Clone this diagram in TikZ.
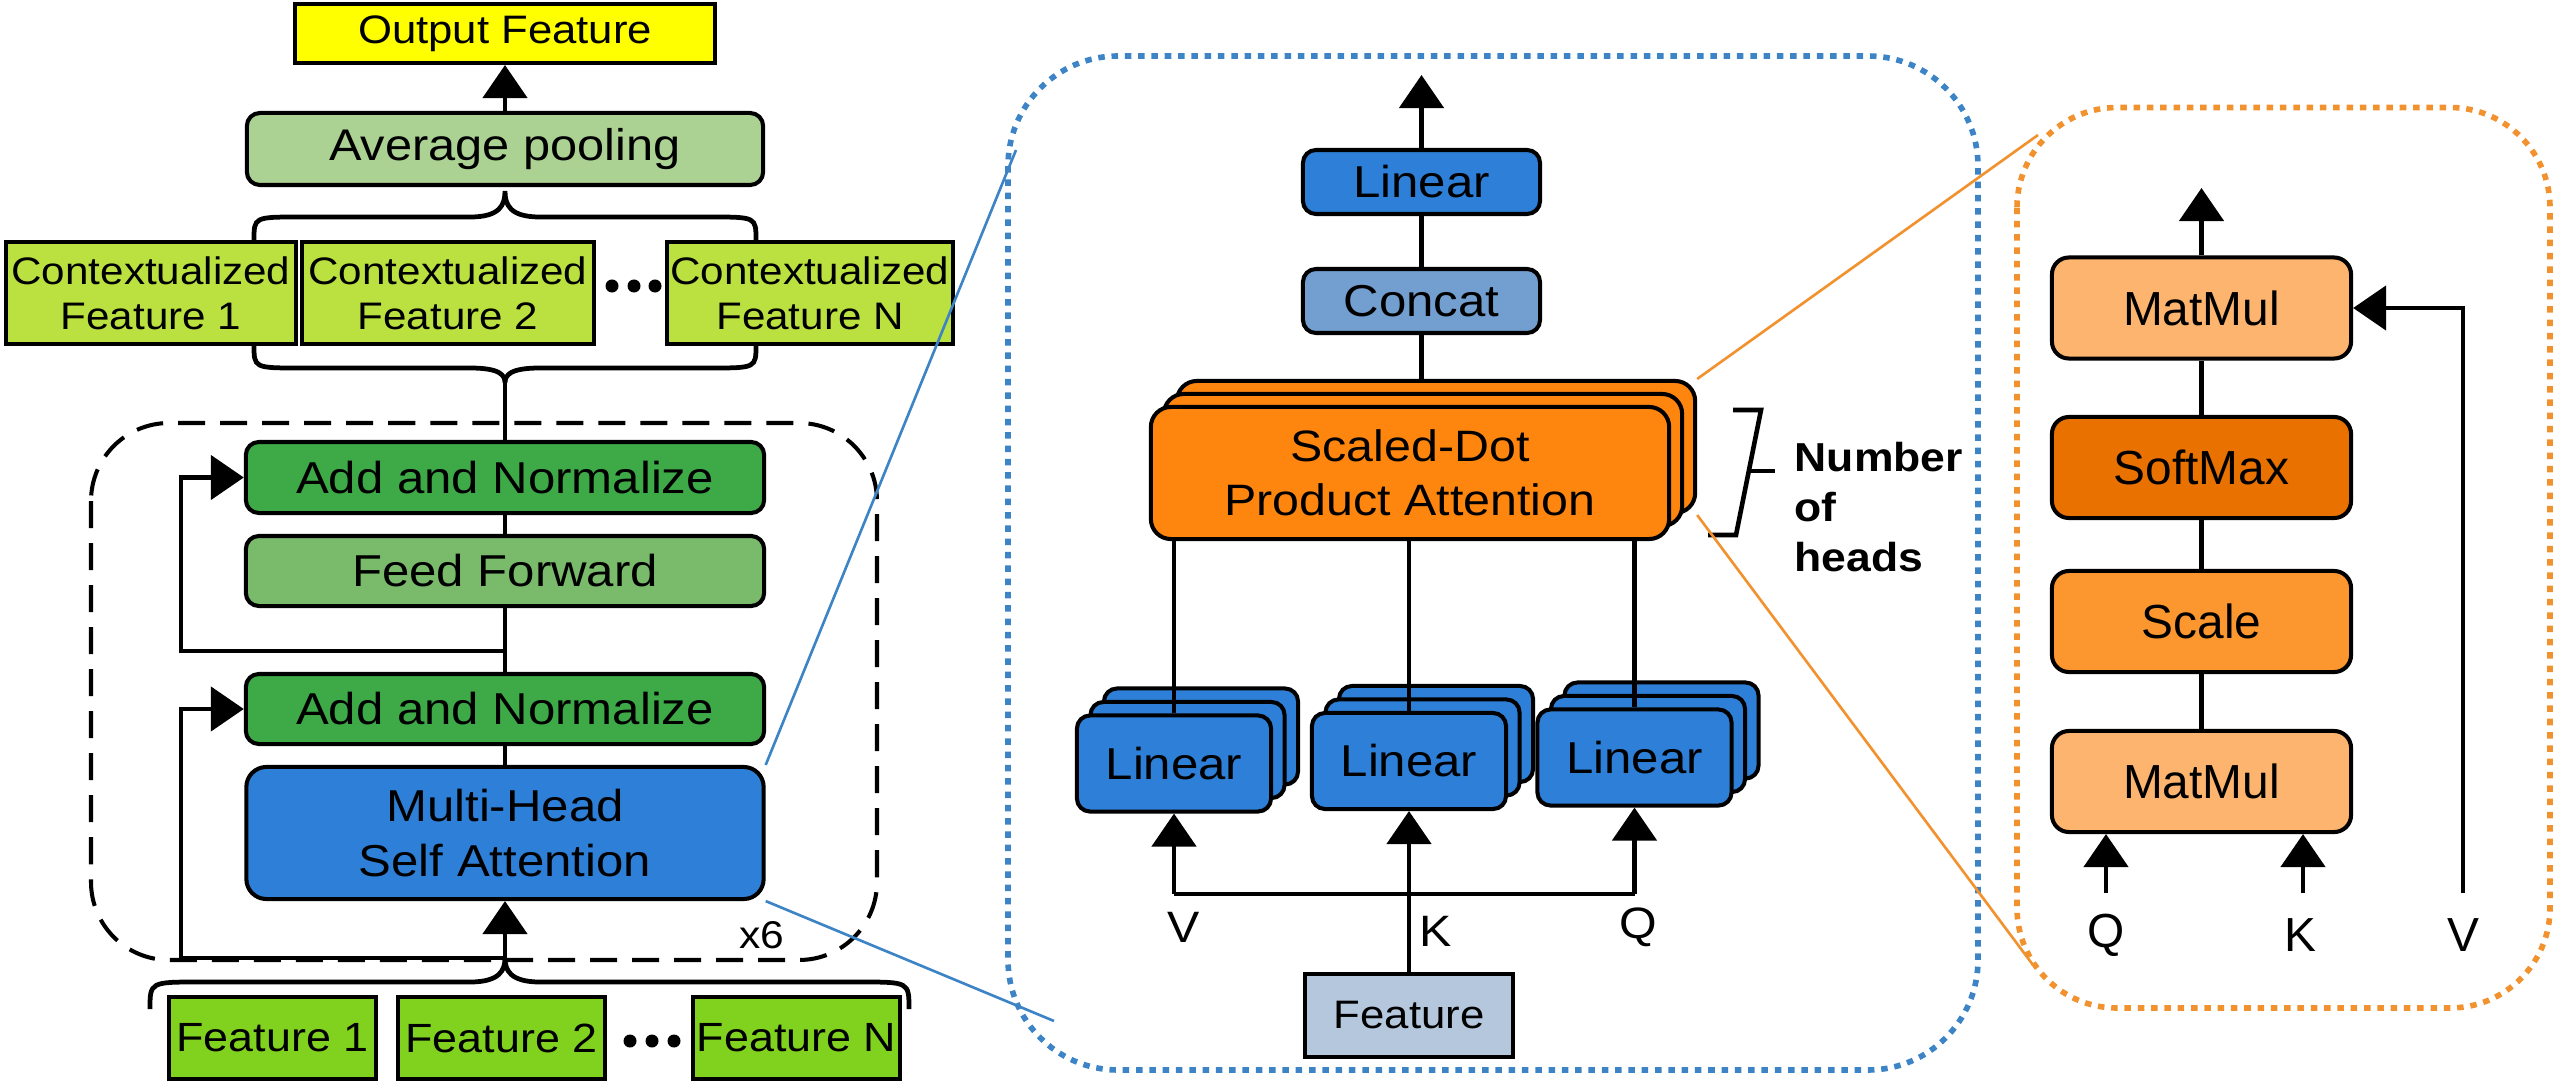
\documentclass[tikz,border=0pt]{standalone}
\usepackage{fontspec}
\setmainfont{Liberation Sans}[FakeStretch=1.1]
\newfontfamily\widesans{Liberation Sans}
\usetikzlibrary{arrows.meta}

\definecolor{outyellow}{HTML}{FFFF00}
\definecolor{poolgreen}{HTML}{ABD193}
\definecolor{ctxgreen}{HTML}{BAE13F}
\definecolor{featgreen}{HTML}{80D21E}
\definecolor{addgreen}{HTML}{3DAA47}
\definecolor{ffgreen}{HTML}{79BA6B}
\definecolor{mhblue}{HTML}{2E7FD7}
\definecolor{concatblue}{HTML}{729FCF}
\definecolor{sdorange}{HTML}{FF860E}
\definecolor{featgray}{HTML}{B4C7DC}
\definecolor{dotblue}{HTML}{3C84C6}
\definecolor{dotorange}{HTML}{F2922F}
\definecolor{mmorange}{HTML}{FDB46E}
\definecolor{smorange}{HTML}{E87100}
\definecolor{scorange}{HTML}{FC962E}

\begin{document}
\begin{tikzpicture}[x=0.01cm, y=-0.01cm,
    blk/.style={draw, line width=1.15pt, inner sep=0pt, align=center},
    rblk/.style={blk, rounded corners=0.13cm},
    arr/.style={line width=1.35pt, -{Triangle[length=3.3mm,width=4.4mm]}},
    wire/.style={line width=1.35pt},
    linblk/.style={rblk, fill=mhblue, minimum width=1.94cm, minimum height=0.96cm, font=\fontsize{12.7}{15}\selectfont},
    sdblk/.style={blk, rounded corners=0.2cm, fill=sdorange, minimum width=5.18cm, minimum height=1.32cm, font=\fontsize{12.5}{15.2}\selectfont},
    opblk/.style={blk, rounded corners=0.17cm, minimum width=2.99cm, minimum height=1.01cm, font=\widesans\fontsize{13.6}{16}\selectfont},
    zoomlink/.style={line width=0.75pt}]
    \useasboundingbox (0,0) rectangle (2560,1085);

    \draw[line width=1.15pt, dash pattern=on 0.27cm off 0.15cm, rounded corners=0.78cm] (91,423) rectangle (877,960);
    \draw[dotblue, line width=1.6pt, dash pattern=on 0.065cm off 0.068cm, rounded corners=1.1cm] (1008,56) rectangle (1978,1070);
    \draw[dotorange, line width=1.6pt, dash pattern=on 0.065cm off 0.068cm, rounded corners=1cm] (2017,107.5) rectangle (2550,1008);

    \node[blk, fill=outyellow, minimum width=4.2cm, minimum height=0.59cm, font=\fontsize{11.3}{13}\selectfont] (out) at (505,33.5) {Output Feature};
    \node[rblk, fill=poolgreen, minimum width=5.16cm, minimum height=0.72cm, font=\fontsize{12.6}{14}\selectfont] (pool) at (505,149) {Average pooling};

    \foreach \n/\x/\w in {1/151/2.9,2/448/2.92,N/810/2.86} {
        \node[blk, fill=ctxgreen, minimum width=\w cm, minimum height=1.01cm, font=\fontsize{10.9}{12.8}\selectfont] (ctx\n) at (\x,293) {Contextualized\\Feature \n};
      }
    \foreach \x in {612,634,655} {
        \fill (\x,286) circle (0.065cm);
      }

    \node[rblk, fill=addgreen, minimum width=5.18cm, minimum height=0.71cm, font=\fontsize{12.7}{15}\selectfont] (an1) at (505,477.5) {Add and Normalize};
    \node[rblk, fill=ffgreen, minimum width=5.18cm, minimum height=0.70cm, font=\fontsize{12.7}{15}\selectfont] (ff) at (505,571) {Feed Forward};
    \node[rblk, fill=addgreen, minimum width=5.18cm, minimum height=0.70cm, font=\fontsize{12.7}{15}\selectfont] (an2) at (505,709) {Add and Normalize};
    \node[blk, rounded corners=0.2cm, fill=mhblue, minimum width=5.17cm, minimum height=1.32cm, font=\fontsize{12.7}{15.4}\selectfont] (mhsa) at (505,833) {Multi-Head\\Self Attention};
    \node[font=\fontsize{11}{13}\selectfont] (rep) at (762,935) {x6};

    \foreach \n/\x in {1/272.5,2/501.5,N/796.5} {
        \node[blk, fill=featgreen, minimum width=2.06cm, minimum height=0.82cm, font=\fontsize{11.6}{14}\selectfont] (feat\n) at (\x,1038) {Feature \n};
      }
    \foreach \x in {630,652,674} {
        \fill (\x,1041) circle (0.065cm);
      }

    \coordinate (ctxtip) at (505,383);
    \coordinate (res1) at (505,651);
    \coordinate (split) at (505,958);

    \draw[wire] (254,240) .. controls (254,217) and (254,217) .. (300,217) -- (470,217)
      .. controls (500,217) and (505,205) .. (505,191)
      .. controls (505,205) and (510,217) .. (540,217) -- (710,217)
      .. controls (756,217) and (756,217) .. (756,240);
    \draw[wire] (254,345) .. controls (254,368) and (254,368) .. (300,368) -- (470,368)
      .. controls (500,368) and (505,375) .. (ctxtip)
      .. controls (505,375) and (510,368) .. (540,368) -- (710,368)
      .. controls (756,368) and (756,368) .. (756,345);
    \draw[wire] (150,1009) .. controls (150,982) and (150,982) .. (200,982) -- (470,982)
      .. controls (500,982) and (505,970) .. (split)
      .. controls (505,970) and (510,982) .. (540,982) -- (860,982)
      .. controls (909,982) and (909,982) .. (909,1009);

    \draw[arr] (pool) -- (out);
    \draw[wire] (ctxtip) -- (an1);
    \draw[wire] (an1) -- (ff);
    \draw[wire] (ff) -- (an2);
    \draw[wire] (an2) -- (mhsa);
    \draw[arr] (res1) -- (181,651) |- (an1);
    \draw[arr] (split) -- (181,958) |- (an2);
    \draw[arr] (split) -- (mhsa);

    \node[rblk, fill=mhblue, minimum width=2.37cm, minimum height=0.64cm, font=\fontsize{12.7}{15}\selectfont] (lin) at (1421.5,182) {Linear};
    \node[rblk, fill=concatblue, minimum width=2.37cm, minimum height=0.64cm, font=\fontsize{12.7}{15}\selectfont] (concat) at (1421.5,301) {Concat};
    \coordinate (mhout) at (1421.5,75);
    \draw[arr] (lin) -- (mhout);
    \draw[wire] (concat) -- (lin);

    \foreach \s/\d in {3/26,2/13} {
        \node[sdblk] (sdpa\s) at (1410+\d,473-\d) {};
      }
    \node[sdblk] (sdpa) at (1410,473) {Scaled-Dot\\Product Attention};
    \draw[wire] (concat) -- (concat |- sdpa3.north);

    \foreach \n/\x/\y in {v/1174/763.5,k/1409/761,q/1634.5/757.5} {
        \node[linblk] (lin\n3) at (\x+27,\y-27) {};
        \node[linblk] (lin\n2) at (\x+13.5,\y-13.5) {};
        \node[linblk] (lin\n) at (\x,\y) {Linear};
        \draw[wire] (lin\n.north |- sdpa.south) -- (lin\n.north);
      }

    \node[blk, fill=featgray, minimum width=2.07cm, minimum height=0.83cm, font=\fontsize{11.3}{13}\selectfont] (feat) at (1409,1015.5) {Feature};
    \coordinate (vin) at (1174,894);
    \coordinate (qin) at (1634.5,894);
    \draw[wire] (vin) -- (qin);
    \draw[arr] (vin) -- (linv);
    \draw[arr] (qin) -- (linq);
    \draw[arr] (feat) -- (link);
    \node[font=\fontsize{12.5}{14}\selectfont] (lv) at (1184,927) {V};
    \node[font=\fontsize{12.5}{14}\selectfont] (lk) at (1436,931) {K};
    \node[font=\fontsize{12.5}{14}\selectfont] (lq) at (1638,927) {Q};

    \draw[line width=1.3pt] (1733,410) -- (1761,410) -- (1736,535) -- (1708,535);
    \draw[line width=1.3pt] (1748,471) -- (1775,471);
    \node[font=\bfseries\fontsize{11.5}{14.2}\selectfont, align=left, anchor=west, inner sep=0pt] (heads) at (1794,507) {Number\\of\\heads};

    \node[opblk, fill=mmorange] (mm2) at (2201.5,308) {MatMul};
    \node[opblk, fill=smorange] (smax) at (2201.5,467.5) {SoftMax};
    \node[opblk, fill=scorange] (scl) at (2201.5,621.5) {Scale};
    \node[opblk, fill=mmorange] (mm1) at (2201.5,781.5) {MatMul};
    \coordinate (sdout) at (2201.5,188);
    \draw[arr] (mm2) -- (sdout);
    \draw[wire] (mm1) -- (scl);
    \draw[wire] (scl) -- (smax);
    \draw[wire] (smax) -- (mm2);
    \coordinate (qin2) at (2106,893);
    \coordinate (kin2) at (2303,893);
    \coordinate (vin2) at (2463,893);
    \draw[arr] (qin2) -- (qin2 |- mm1.south);
    \draw[arr] (kin2) -- (kin2 |- mm1.south);
    \draw[arr] (vin2) |- (mm2);
    \node[font=\widesans\fontsize{13.6}{16}\selectfont] (rq) at (2106,935) {Q};
    \node[font=\widesans\fontsize{13.6}{16}\selectfont] (rk) at (2300,935) {K};
    \node[font=\widesans\fontsize{13.6}{16}\selectfont] (rv) at (2463,935) {V};

    \coordinate (bluetop) at (1016,150);
    \coordinate (bluebot) at (1054,1021);
    \coordinate (orangetop) at (2038,135);
    \coordinate (orangebot) at (2033,965);
    \draw[zoomlink, dotblue] (mhsa.north east) -- (bluetop);
    \draw[zoomlink, dotblue] (mhsa.south east) -- (bluebot);
    \draw[zoomlink, dotorange] (sdpa3.north east) -- (orangetop);
    \draw[zoomlink, dotorange] (sdpa3.south east) -- (orangebot);
  \end{tikzpicture}
\end{document}
